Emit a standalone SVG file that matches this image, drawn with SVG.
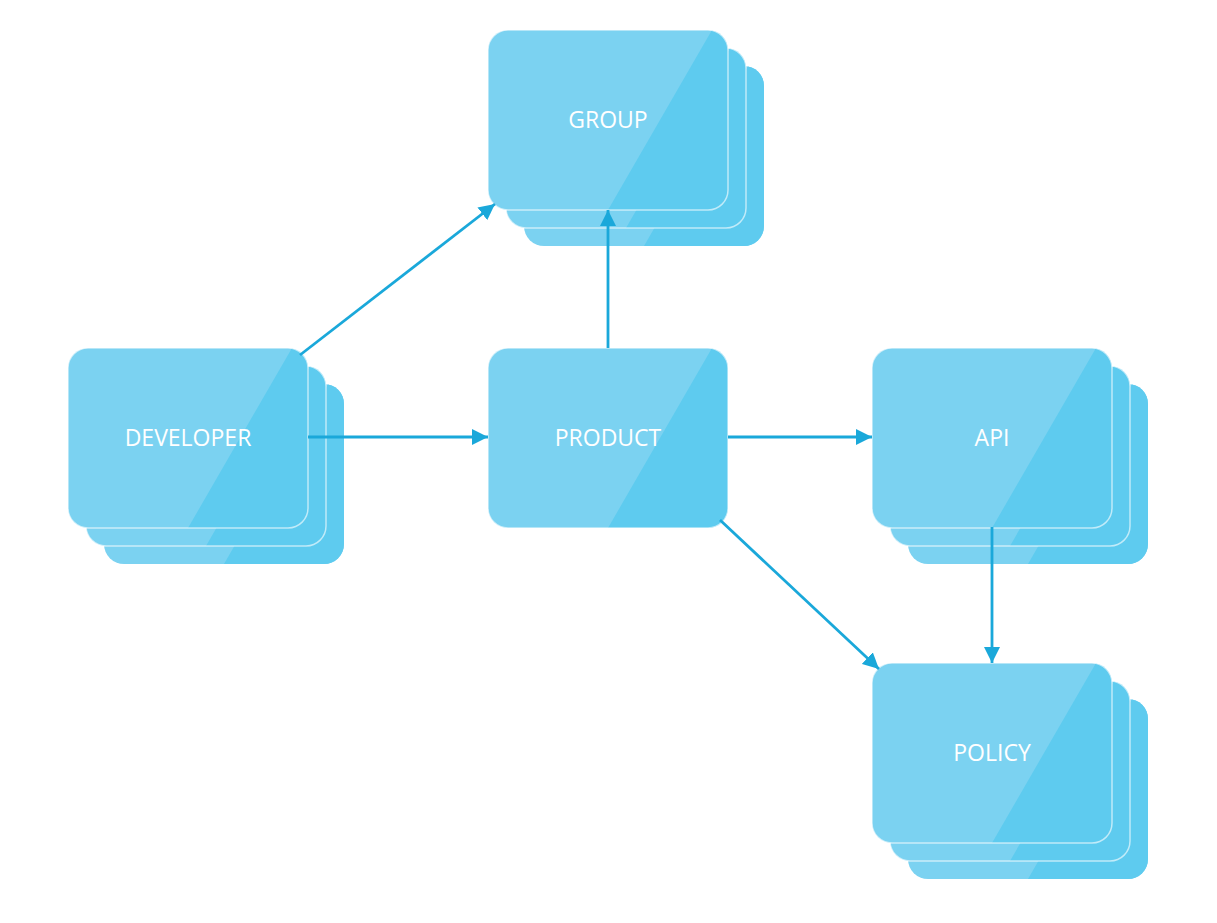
<svg xmlns="http://www.w3.org/2000/svg" width="1217" height="923" viewBox="0 0 1217 923">
<style>
.lbl{font-family:"Open Sans","Noto Sans",sans-serif;font-size:23px;fill:#ffffff;text-anchor:middle;dominant-baseline:central}
.edge{stroke:#1AA8DA;stroke-width:2.8;fill:none;marker-end:url(#ah)}
</style>
<defs>
<clipPath id="cc"><rect width="240" height="180" rx="20"/></clipPath>
<g id="card">
<rect width="240" height="180" rx="20" fill="#7BD2F1"/>
<polygon points="224,0 260,0 260,180 120,180" fill="#5ECBEF" clip-path="url(#cc)"/>
</g>
<g id="cards">
<use href="#card"/>
<rect width="240" height="180" rx="20" fill="none" stroke="#ffffff" stroke-opacity="0.6" stroke-width="1.5"/>
</g>
<g id="stack">
<use href="#card" x="36" y="36"/>
<use href="#cards" x="18" y="18"/>
<use href="#cards"/>
</g>
<marker id="ah" markerUnits="userSpaceOnUse" markerWidth="17" markerHeight="16" refX="16" refY="8" orient="auto" viewBox="0 0 17 16">
<path d="M0,0 L16,8 L0,16 z" fill="#1AA8DA"/>
</marker>
</defs>
<rect width="1217" height="923" fill="#ffffff"/>
<g id="group">
<use href="#stack" x="488" y="30"/>
<text class="lbl" x="608" y="119">GROUP</text>
</g>
<g id="developer">
<use href="#stack" x="68" y="348"/>
<text class="lbl" x="188" y="437">DEVELOPER</text>
</g>
<g id="product">
<use href="#cards" x="488" y="348"/>
<text class="lbl" x="608" y="437">PRODUCT</text>
</g>
<g id="api">
<use href="#stack" x="872" y="348"/>
<text class="lbl" x="992" y="437">API</text>
</g>
<g id="policy">
<use href="#stack" x="872" y="663"/>
<text class="lbl" x="992" y="752">POLICY</text>
</g>
<g id="connectors">
<line class="edge" x1="300" y1="355" x2="495" y2="204"/>
<line class="edge" x1="308" y1="437" x2="488" y2="437"/>
<line class="edge" x1="608" y1="348" x2="608" y2="210"/>
<line class="edge" x1="728" y1="437" x2="872" y2="437"/>
<line class="edge" x1="720" y1="520" x2="879" y2="669"/>
<line class="edge" x1="992" y1="527" x2="992" y2="663"/>
</g>
</svg>
